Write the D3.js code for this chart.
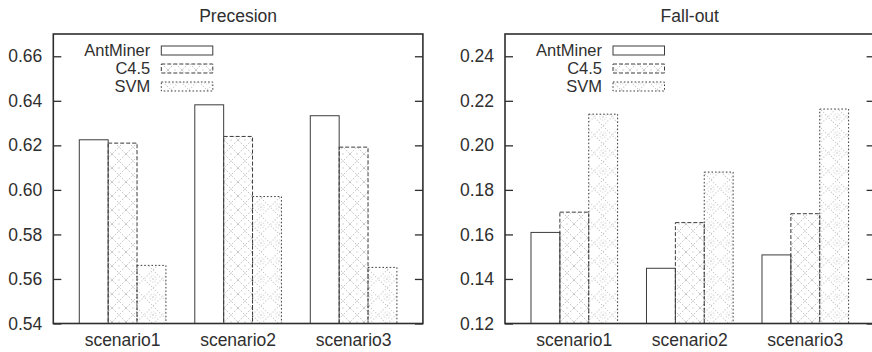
<!DOCTYPE html>
<html>
<head>
<meta charset="utf-8">
<script src="https://cdn.jsdelivr.net/npm/d3@7"></script>
<style>
  html, body { margin: 0; padding: 0; background: #fff; }
  svg { display: block; font-family: "Liberation Sans", Arial, sans-serif; }
</style>
</head>
<body>
<svg id="chart" width="872" height="352"></svg>
<script>
// Categories and series
const scenarios = ["scenario1", "scenario2", "scenario3"];
const methods = ["AntMiner", "C4.5", "SVM"];

// Precision per method across scenarios
const precisionAntMiner = [0.6225, 0.6382, 0.6333];
const precisionC45      = [0.6210, 0.6240, 0.6192];
const precisionSVM      = [0.5661, 0.5970, 0.5652];

// Fall-out per method across scenarios
const falloutAntMiner = [0.1609, 0.1448, 0.1508];
const falloutC45      = [0.1700, 0.1653, 0.1693];
const falloutSVM      = [0.2140, 0.1880, 0.2163];

// Axis ticks
const precisionTicks = [0.54, 0.56, 0.58, 0.60, 0.62, 0.64, 0.66];
const falloutTicks   = [0.12, 0.14, 0.16, 0.18, 0.20, 0.22, 0.24];

const panels = [
  { title: "Precesion", left: 53.3, domain: [0.54, 0.67], ticks: precisionTicks,
    series: [precisionAntMiner, precisionC45, precisionSVM] },
  { title: "Fall-out", left: 505, domain: [0.12, 0.25], ticks: falloutTicks,
    series: [falloutAntMiner, falloutC45, falloutSVM] }
];

const svg = d3.select("#chart");
const ink = "#2f2f2f";
const frameTop = 34, frameBottom = 323.5, groupStep = 115.5;
const fontSize = 17.5;
const legendFont = 16.5;

// Fill patterns for the hatched bars
const defs = svg.append("defs");
const cross = defs.append("pattern").attr("id", "pat-c45")
  .attr("patternUnits", "userSpaceOnUse").attr("width", 14).attr("height", 14);
cross.append("path").attr("d", "M0,0L14,14M14,0L0,14")
  .attr("stroke", "#c6c6c6").attr("stroke-width", 1).attr("stroke-dasharray", "2,1.5").attr("fill", "none");
cross.append("circle").attr("cx", 7).attr("cy", 0).attr("r", 0.8).attr("fill", "#d0d0d0");
cross.append("circle").attr("cx", 7).attr("cy", 14).attr("r", 0.8).attr("fill", "#d0d0d0");

const dots = defs.append("pattern").attr("id", "pat-svm")
  .attr("patternUnits", "userSpaceOnUse").attr("width", 18).attr("height", 18);
dots.append("path").attr("d", "M9,0L18,9L9,18L0,9Z")
  .attr("stroke", "#c2c2c2").attr("stroke-width", 1.1).attr("stroke-dasharray", "1,2").attr("fill", "none");
dots.append("circle").attr("cx", 9).attr("cy", 9).attr("r", 3.2)
  .attr("stroke", "#cacaca").attr("stroke-width", 0.9).attr("stroke-dasharray", "1,1.5").attr("fill", "none");
dots.append("circle").attr("cx", 9).attr("cy", 9).attr("r", 0.8).attr("fill", "#cacaca");
dots.append("path").attr("d", "M4.5,4.5L13.5,13.5M13.5,4.5L4.5,13.5")
  .attr("stroke", "#d8d8d8").attr("stroke-width", 0.8).attr("stroke-dasharray", "1,2").attr("fill", "none");

const barStyles = [
  { fill: "#fff", dash: null },
  { fill: "url(#pat-c45)", dash: "4,2" },
  { fill: "url(#pat-svm)", dash: "1.6,2" }
];

panels.forEach(p => {
  const g = svg.append("g");
  const x = d3.scaleLinear().domain([-0.6, 2.6]).range([p.left, p.left + 3.2 * groupStep]);
  const y = d3.scaleLinear().domain(p.domain).range([frameBottom, frameTop]);
  const right = x(2.6);

  // Bars: three per scenario, each a quarter of a group wide
  const barW = 0.25;
  p.series.forEach((vals, j) => {
    g.selectAll(null).data(vals).enter().append("rect")
      .attr("x", (d, i) => x(i - 0.375 + j * barW))
      .attr("y", d => y(d))
      .attr("width", x(barW) - x(0))
      .attr("height", d => y(p.domain[0]) - y(d))
      .attr("fill", barStyles[j].fill)
      .attr("stroke", "#3c3c3c")
      .attr("stroke-width", 1)
      .attr("stroke-dasharray", barStyles[j].dash);
  });

  // Left axis (ticks drawn inward) and mirrored ticks on the right
  const yAxis = d3.axisLeft(y).tickValues(p.ticks).tickFormat(d3.format(".2f"))
    .tickSizeInner(-8).tickSizeOuter(0).tickPadding(11);
  const ag = g.append("g").attr("transform", `translate(${p.left},0)`).call(yAxis);
  ag.select(".domain").remove();
  ag.selectAll(".tick line").attr("stroke", ink).attr("stroke-width", 1.3);
  ag.selectAll(".tick text").attr("fill", ink).attr("font-size", fontSize)
    .attr("font-family", "Liberation Sans, Arial, sans-serif");

  const rg = g.append("g").attr("transform", `translate(${right},0)`)
    .call(d3.axisRight(y).tickValues(p.ticks).tickSizeInner(-8).tickSizeOuter(0).tickFormat(""));
  rg.select(".domain").remove();
  rg.selectAll(".tick line").attr("stroke", ink).attr("stroke-width", 1.3);

  // Frame
  g.append("rect").attr("x", p.left).attr("y", frameTop)
    .attr("width", right - p.left).attr("height", frameBottom - frameTop)
    .attr("fill", "none").attr("stroke", "#2e2e2e").attr("stroke-width", 1.6);

  // Category labels
  g.selectAll(null).data(scenarios).enter().append("text")
    .attr("x", (d, i) => x(i)).attr("y", 346)
    .attr("text-anchor", "middle").attr("fill", ink).attr("font-size", fontSize)
    .text(d => d);

  // Title
  g.append("text").attr("x", (p.left + right) / 2).attr("y", 21.5)
    .attr("text-anchor", "middle").attr("fill", ink).attr("font-size", fontSize)
    .text(p.title);

  // Legend
  methods.forEach((m, j) => {
    const cy = 50.5 + j * 18;
    g.append("text").attr("x", p.left + 97).attr("y", cy).attr("dy", "0.36em")
      .attr("text-anchor", "end").attr("fill", ink).attr("font-size", legendFont).text(m);
    g.append("rect").attr("x", p.left + 108).attr("y", cy - 4.5)
      .attr("width", 51.5).attr("height", 9)
      .attr("fill", barStyles[j].fill).attr("stroke", "#3c3c3c")
      .attr("stroke-width", 1).attr("stroke-dasharray", barStyles[j].dash);
  });
});
</script>
</body>
</html>
